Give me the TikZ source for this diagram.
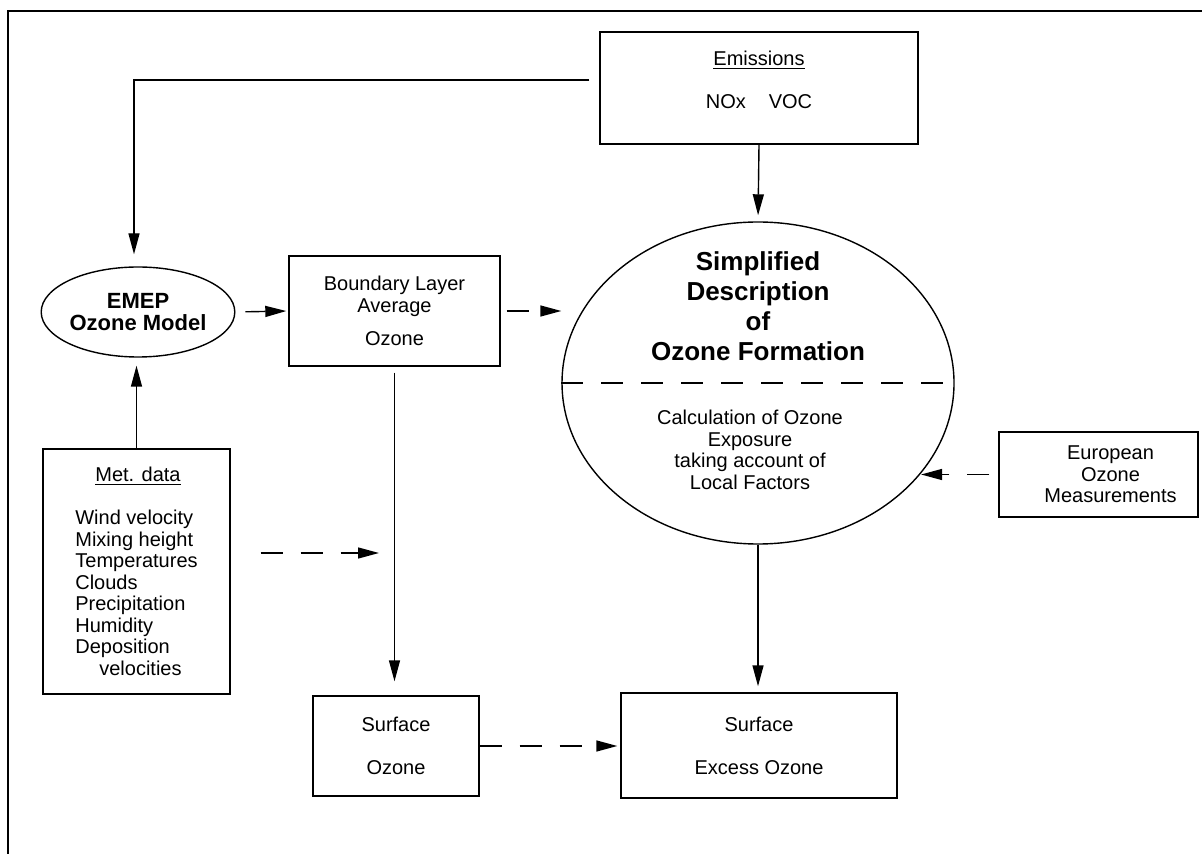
\documentclass[tikz,border=0pt]{standalone}
\usepackage{fontspec}
\setmainfont{Liberation Sans}
\usetikzlibrary{arrows.meta,shapes.geometric}
\newcommand{\headtext}[1]{\underline{#1}}

\begin{document}
\begin{tikzpicture}[x=0.5pt, y=-0.5pt,
  box/.style={draw, line width=0.7pt, align=center, inner sep=0pt,
    font=\fontsize{10}{10.75}\selectfont},
  oval/.style={draw, ellipse, line width=0.7pt, align=center, inner sep=0pt},
  arr/.style={-{Triangle[length=10.5pt,width=5.5pt]}, line width=0.7pt},
  darr/.style={arr, dash pattern=on 11pt off 9pt}
]
  \useasboundingbox (0,0) rectangle (1202,854);
  \draw[line width=1.3pt] (1202,11) -- (8,11) -- (8,854);

  \node[box, minimum width=159pt, minimum height=56pt] (emis) at (759,88) {
    \headtext{Emissions}\\[11pt]
    NOx\hspace{11.5pt}VOC\\[-2.75pt]\mbox{}
  };
  \node[oval, minimum width=92.5pt, minimum height=45pt,
    font=\fontsize{11}{11}\selectfont\bfseries] (emep) at (138,312) {
    EMEP\\Ozone Model
  };
  \node[box, minimum width=105.5pt, minimum height=55pt] (blo) at (394.5,311) {
    Boundary Layer\\Average\\[6pt]
    Ozone
  };
  \node[oval, minimum width=196pt, minimum height=161pt] (simp) at (758,383) {};
  \node[align=center, font=\fontsize{13}{15}\selectfont\bfseries] (simptitle) at (758,306) {
    Simplified\\Description\\of\\Ozone Formation
  };
  \node[align=center, font=\fontsize{10}{10.75}\selectfont] (calc) at (750,450) {
    Calculation of Ozone\\Exposure\\taking account of\\Local Factors
  };
  \node[box, minimum width=99.5pt, minimum height=42.5pt] (euro) at (1098.5,474.5) {
    \hspace*{12pt}European\\\hspace*{12pt}Ozone\\\hspace*{12pt}Measurements
  };
  \node[box, minimum width=93.5pt, minimum height=122.5pt, align=left] (met) at (136.5,571.5) {
    \hspace*{1em}\headtext{Met. data}\\[10.75pt]
    Wind velocity\\Mixing height\\Temperatures\\Clouds\\
    Precipitation\\Humidity\\Deposition\\\hspace*{1.2em}velocities
  };
  \node[box, minimum width=83pt, minimum height=50pt] (surf) at (396,746) {
    Surface\\[10.75pt]
    Ozone
  };
  \node[box, minimum width=138pt, minimum height=52.5pt] (exc) at (759,745.5) {
    Surface\\[10.75pt]
    Excess Ozone
  };
  \coordinate (mettip) at (379,553);

  % split of the ozone formation ellipse
  \draw[line width=0.7pt, dash pattern=on 11pt off 9pt] (simp.west) -- (simp.east);

  \draw[arr, shorten >=6pt] ([xshift=-5pt,yshift=4pt]emis.west) -| ([xshift=-2pt]emep.north);
  \draw[arr, shorten >=3pt] (emis.south) -- (simp.north);
  \draw[arr, shorten <=5pt, shorten >=1pt] (emep.east) -- (blo.west);
  \draw[arr, shorten >=4pt] (met.north) -- (met.north |- emep.south);
  \draw[darr, shorten <=3pt] (blo.east) -- (blo.east -| simp.west);
  \draw[arr, shorten <=3pt, shorten >=7pt] (blo.south) -- (blo.south |- surf.north);
  \draw[darr, shorten <=15pt] (met.east |- mettip) -- (mettip);
  \draw[darr, shorten <=4.5pt] (euro.west) -- (euro.west -| simp.-29);
  \draw[arr, shorten >=3pt] (simp.south) -- (simp.south |- exc.north);
  \draw[darr, shorten >=1.5pt] (surf.east) -- (surf.east -| exc.west);
\end{tikzpicture}
\end{document}
